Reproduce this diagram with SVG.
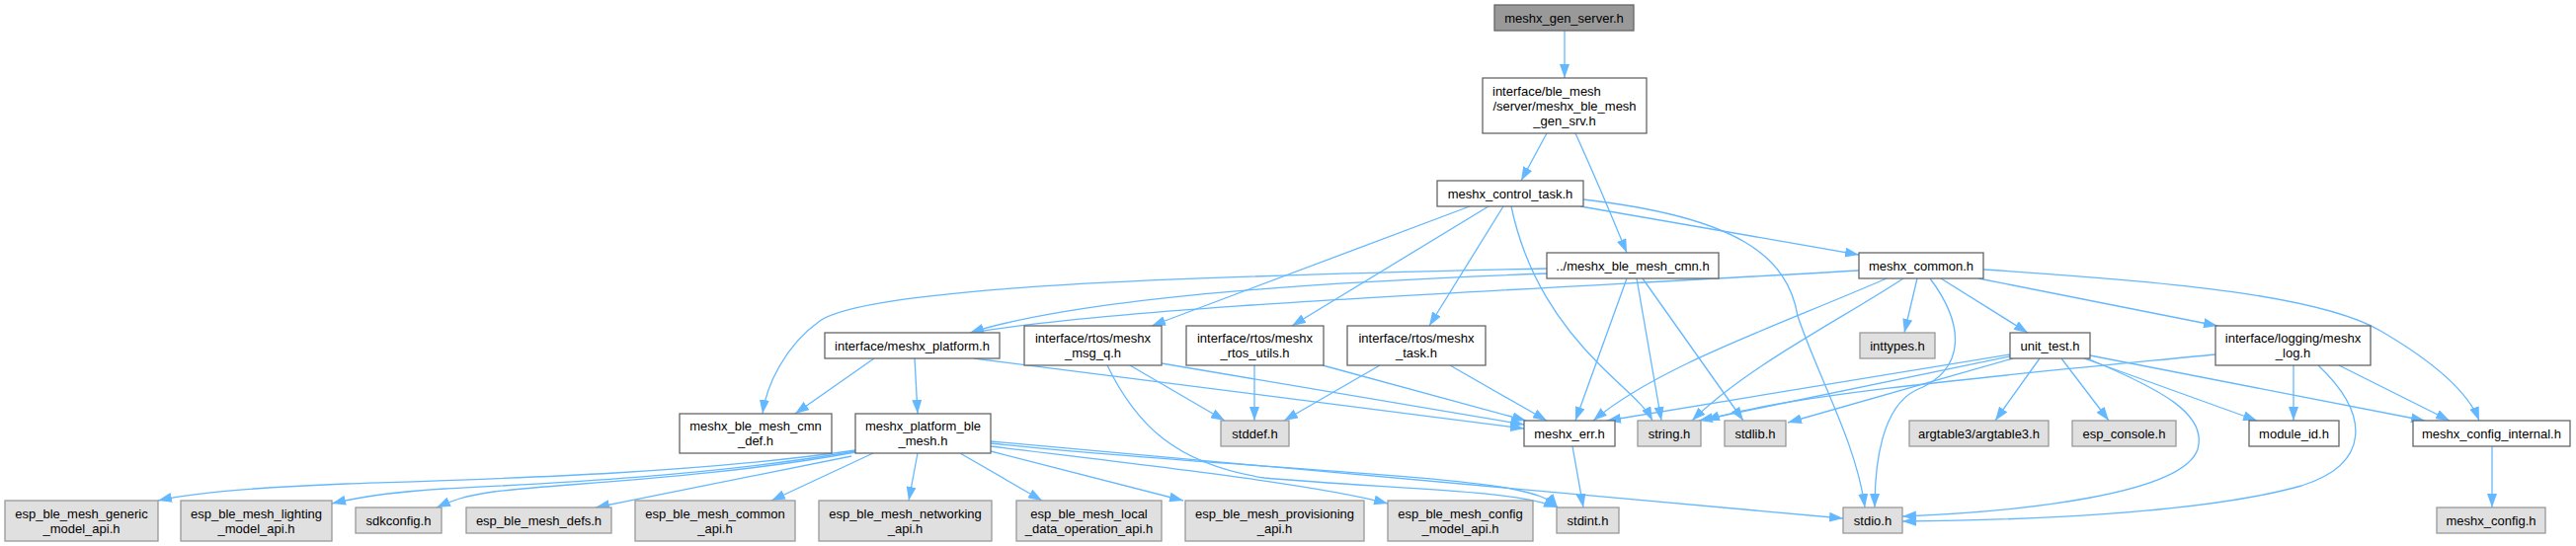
<svg xmlns="http://www.w3.org/2000/svg" width="2608" height="553" viewBox="0 0 2608 553">
<style>
.n rect{fill:#ffffff;stroke:#666666;stroke-width:1.3}
.g rect{fill:#e0e0e0;stroke:#999999;stroke-width:1.3}
.r rect{fill:#999999;stroke:#666666;stroke-width:1.3}
text{font-family:"Liberation Sans",Arial,sans-serif;font-size:13px;fill:#000000;text-anchor:middle}
#edges path{fill:none;stroke:#63b8ff;stroke-width:1.3;marker-end:url(#a)}
</style>
<defs>
<marker id="a" markerWidth="14" markerHeight="10" refX="14" refY="5" orient="auto" markerUnits="userSpaceOnUse"><path d="M0,0 L14,5 L0,10 z" fill="#63b8ff"/></marker>
</defs>
<rect width="2608" height="553" fill="#ffffff"/>
<g id="edges">
<path d="M1584,31 L1584,79"/>
<path d="M1566,135 L1540,183"/>
<path d="M1595,135 Q1620,190 1647,256"/>
<path d="M1600,209 L1882,258"/>
<path d="M1603,202 C1760,220 1810,260 1820,320 C1840,380 1880,450 1888,514"/>
<path d="M1488,209 L1166,330"/>
<path d="M1507,209 L1308,330"/>
<path d="M1522,209 L1447,330"/>
<path d="M1530,209 C1545,280 1580,330 1620,370 C1645,395 1665,410 1673,426"/>
<path d="M1566,272 C1200,280 880,290 830,325 C795,350 776,390 772,419"/>
<path d="M1566,277 C1350,285 1100,300 982,337"/>
<path d="M1882,274 C1500,296 1150,310 982,337"/>
<path d="M1647,282 L1595,426"/>
<path d="M1657,282 L1682,426"/>
<path d="M1663,282 L1765,426"/>
<path d="M1910,282 C1800,330 1680,370 1613,426"/>
<path d="M1927,282 C1870,320 1770,370 1713,426"/>
<path d="M1941,282 L1928,337"/>
<path d="M1954,282 C1990,330 1990,375 1940,395 C1905,412 1898,470 1898,514"/>
<path d="M1965,282 L2053,337"/>
<path d="M2003,282 L2245,330"/>
<path d="M2008,273 C2200,285 2350,300 2410,335 C2470,370 2500,400 2510,426"/>
<path d="M2035,359 L1627,426"/>
<path d="M2035,361 L1720,426"/>
<path d="M2038,363 L1810,428"/>
<path d="M2065,363 L2020,426"/>
<path d="M2087,363 L2135,426"/>
<path d="M2110,363 L2285,426"/>
<path d="M2113,363 C2190,395 2235,420 2225,455 C2210,500 2050,518 1926,523"/>
<path d="M2116,360 L2455,426"/>
<path d="M2243,359 C2050,378 1800,400 1727,426"/>
<path d="M2322,370 L2322,426"/>
<path d="M2347,370 C2400,420 2400,470 2330,492 C2230,520 2050,527 1926,528"/>
<path d="M2368,370 L2480,426"/>
<path d="M2523,452 L2523,514"/>
<path d="M1592,452 L1603,514"/>
<path d="M885,363 L805,419"/>
<path d="M926,363 L929,419"/>
<path d="M986,363 L1543,434"/>
<path d="M1176,368 L1543,430"/>
<path d="M1144,370 L1240,426"/>
<path d="M1121,370 C1150,430 1190,470 1280,484 C1400,495 1530,495 1577,514"/>
<path d="M1270,370 L1270,426"/>
<path d="M1339,370 L1545,426"/>
<path d="M1397,370 L1300,426"/>
<path d="M1468,370 L1566,426"/>
<path d="M866,456 C700,480 500,485 350,490 C250,494 190,500 160,507"/>
<path d="M866,457 C720,482 550,490 450,495 C400,498 365,503 336,510"/>
<path d="M866,458 C720,485 560,490 500,498 C470,502 455,508 442,514"/>
<path d="M862,462 L603,514"/>
<path d="M884,459 L781,507"/>
<path d="M929,459 L920,507"/>
<path d="M972,459 L1055,507"/>
<path d="M1003,457 L1198,507"/>
<path d="M1003,452 C1150,470 1330,490 1405,510"/>
<path d="M1003,449 C1200,470 1450,480 1530,495 C1555,500 1570,505 1577,514"/>
<path d="M1003,447 L1866,525"/>
</g>
<g id="n0" class="r"><rect x="1513" y="5" width="141" height="26"/><text x="1583.5" y="23">meshx_gen_server.h</text></g>
<g id="n1" class="n"><rect x="1501" y="79" width="166" height="56"/><text x="1511" y="97" style="text-anchor:start">interface/ble_mesh</text><text x="1584" y="112">/server/meshx_ble_mesh</text><text x="1584" y="127">_gen_srv.h</text></g>
<g id="n2" class="n"><rect x="1455" y="183" width="148" height="26"/><text x="1529" y="201">meshx_control_task.h</text></g>
<g id="n3" class="n"><rect x="1566" y="256" width="174" height="26"/><text x="1653" y="274">../meshx_ble_mesh_cmn.h</text></g>
<g id="n4" class="n"><rect x="1882" y="256" width="126" height="26"/><text x="1945" y="274">meshx_common.h</text></g>
<g id="n5" class="n"><rect x="835" y="337" width="177" height="26"/><text x="923.5" y="355">interface/meshx_platform.h</text></g>
<g id="n6" class="n"><rect x="1037" y="330" width="139" height="40"/><text x="1106.5" y="347">interface/rtos/meshx</text><text x="1106.5" y="362">_msg_q.h</text></g>
<g id="n7" class="n"><rect x="1201" y="330" width="139" height="40"/><text x="1270.5" y="347">interface/rtos/meshx</text><text x="1270.5" y="362">_rtos_utils.h</text></g>
<g id="n8" class="n"><rect x="1364" y="330" width="140" height="40"/><text x="1434" y="347">interface/rtos/meshx</text><text x="1434" y="362">_task.h</text></g>
<g id="n9" class="g"><rect x="1883" y="337" width="76" height="26"/><text x="1921" y="355">inttypes.h</text></g>
<g id="n10" class="n"><rect x="2035" y="337" width="81" height="26"/><text x="2075.5" y="355">unit_test.h</text></g>
<g id="n11" class="n"><rect x="2243" y="330" width="157" height="40"/><text x="2321.5" y="347">interface/logging/meshx</text><text x="2321.5" y="362">_log.h</text></g>
<g id="n12" class="n"><rect x="688" y="419" width="154" height="40"/><text x="765" y="436">meshx_ble_mesh_cmn</text><text x="765" y="451">_def.h</text></g>
<g id="n13" class="n"><rect x="866" y="419" width="137" height="40"/><text x="934.5" y="436">meshx_platform_ble</text><text x="934.5" y="451">_mesh.h</text></g>
<g id="n14" class="g"><rect x="1236" y="426" width="69" height="26"/><text x="1270.5" y="444">stddef.h</text></g>
<g id="n15" class="n"><rect x="1543" y="426" width="92" height="26"/><text x="1589" y="444">meshx_err.h</text></g>
<g id="n16" class="g"><rect x="1658" y="426" width="64" height="26"/><text x="1690" y="444">string.h</text></g>
<g id="n17" class="g"><rect x="1746" y="426" width="62" height="26"/><text x="1777" y="444">stdlib.h</text></g>
<g id="n18" class="g"><rect x="1933" y="426" width="141" height="26"/><text x="2003.5" y="444">argtable3/argtable3.h</text></g>
<g id="n19" class="g"><rect x="2098" y="426" width="105" height="26"/><text x="2150.5" y="444">esp_console.h</text></g>
<g id="n20" class="n"><rect x="2277" y="426" width="91" height="26"/><text x="2322.5" y="444">module_id.h</text></g>
<g id="n21" class="n"><rect x="2443" y="426" width="159" height="26"/><text x="2522.5" y="444">meshx_config_internal.h</text></g>
<g id="n22" class="g"><rect x="5" y="507" width="155" height="41"/><text x="82.5" y="525">esp_ble_mesh_generic</text><text x="82.5" y="540">_model_api.h</text></g>
<g id="n23" class="g"><rect x="183" y="507" width="153" height="41"/><text x="259.5" y="525">esp_ble_mesh_lighting</text><text x="259.5" y="540">_model_api.h</text></g>
<g id="n24" class="g"><rect x="360" y="514" width="87" height="26"/><text x="403.5" y="532">sdkconfig.h</text></g>
<g id="n25" class="g"><rect x="472" y="514" width="147" height="26"/><text x="545.5" y="532">esp_ble_mesh_defs.h</text></g>
<g id="n26" class="g"><rect x="643" y="507" width="162" height="41"/><text x="724" y="525">esp_ble_mesh_common</text><text x="724" y="540">_api.h</text></g>
<g id="n27" class="g"><rect x="829" y="507" width="175" height="41"/><text x="916.5" y="525">esp_ble_mesh_networking</text><text x="916.5" y="540">_api.h</text></g>
<g id="n28" class="g"><rect x="1029" y="507" width="147" height="41"/><text x="1102.5" y="525">esp_ble_mesh_local</text><text x="1102.5" y="540">_data_operation_api.h</text></g>
<g id="n29" class="g"><rect x="1200" y="507" width="181" height="41"/><text x="1290.5" y="525">esp_ble_mesh_provisioning</text><text x="1290.5" y="540">_api.h</text></g>
<g id="n30" class="g"><rect x="1405" y="507" width="147" height="41"/><text x="1478.5" y="525">esp_ble_mesh_config</text><text x="1478.5" y="540">_model_api.h</text></g>
<g id="n31" class="g"><rect x="1576" y="514" width="63" height="26"/><text x="1607.5" y="532">stdint.h</text></g>
<g id="n32" class="g"><rect x="1866" y="514" width="60" height="26"/><text x="1896" y="532">stdio.h</text></g>
<g id="n33" class="g"><rect x="2467" y="514" width="110" height="26"/><text x="2522" y="532">meshx_config.h</text></g>
</svg>
